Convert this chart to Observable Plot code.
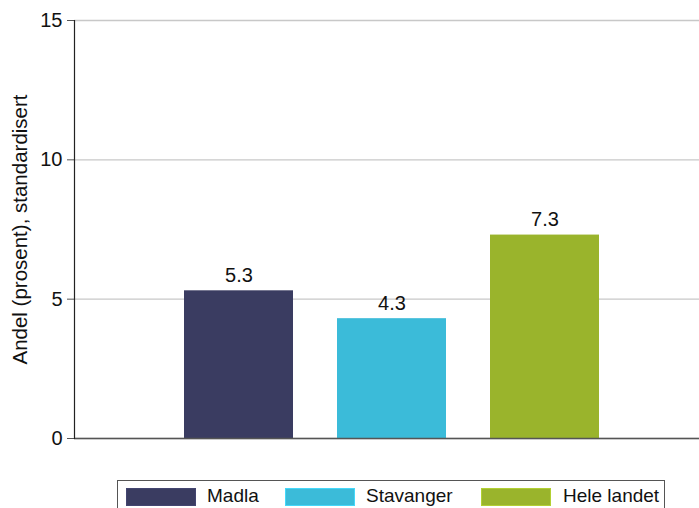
<!DOCTYPE html>
<html>
<head>
<meta charset="utf-8">
<script src="https://cdn.jsdelivr.net/npm/d3@7"></script>
<script src="https://cdn.jsdelivr.net/npm/@observablehq/plot@0.6"></script>
<style>
  body { margin: 0; background: #fff; font-family: "Liberation Sans", Arial, sans-serif; }
  #chart svg { display: block; }
  #legend { position: relative; margin-left: 117px; margin-top: 10px; width: 548px; height: 40px;
            border: 1px solid #555; box-sizing: border-box; }
  .sw { position: absolute; top: 7px; width: 70px; height: 18px; box-sizing: border-box; }
  .lt { position: absolute; top: 4px; font-size: 19px; color: #111; line-height: 22px; }
</style>
</head>
<body>
<div id="chart"></div>
<div id="legend"></div>
<script>
const categories = ["Madla", "Stavanger", "Hele landet"];
const values = [5.3, 4.3, 7.3];
const colors = ["#3a3c61", "#3bbbd9", "#9ab42c"];
const yTicks = [0, 5, 10, 15];
const yLabel = "Andel (prosent), standardisert";

const data = categories.map((c, i) => ({ category: c, value: values[i] }));

const chart = Plot.plot({
  width: 699,
  height: 470,
  marginLeft: 74,
  marginRight: 0,
  marginTop: 20,
  marginBottom: 32,
  style: { fontFamily: "Liberation Sans, Arial, sans-serif", fontSize: "19px", color: "#111", background: "#fff" },
  x: { domain: categories, paddingInner: 0.288, paddingOuter: 0.686, align: 0.524, axis: null },
  y: { domain: [0, 15], ticks: yTicks, label: null, axis: null },
  color: { domain: categories, range: colors },
  marks: [
    Plot.gridY(yTicks, { stroke: "#c8c8c8", strokeOpacity: 1, strokeWidth: 1.3 }),
    Plot.barY(data, { x: "category", y: "value", fill: "category" }),
    Plot.text(data, { x: "category", y: "value", text: d => d.value.toFixed(1), lineAnchor: "bottom", dy: -9, fontSize: 20, fill: "#111" }),
    Plot.ruleY([0], { stroke: "#555", strokeWidth: 1.5 }),
    Plot.axisY({ ticks: yTicks, tickSize: 7, text: null, label: null, stroke: "#555" }),
    Plot.text(yTicks, { y: d => d, text: d => String(d), frameAnchor: "left", textAnchor: "end", dx: -12, fontSize: 20, fill: "#111" }),
    Plot.frame({ anchor: "left", stroke: "#222", strokeWidth: 1.2 }),
    Plot.text([yLabel], { frameAnchor: "left", textAnchor: "middle", dx: -54, rotate: -90, fontSize: 20.5, fill: "#111", text: d => d })
  ]
});
document.getElementById("chart").appendChild(chart);

const legend = document.getElementById("legend");
const swLeft = [8, 167, 363];
const txtLeft = [89, 248, 445];
categories.forEach((c, i) => {
  const s = document.createElement("div");
  s.className = "sw";
  s.style.left = swLeft[i] + "px";
  s.style.background = colors[i];
  s.style.border = "1px solid " + d3.color(colors[i]).brighter(0.4);
  legend.appendChild(s);
  const t = document.createElement("div");
  t.className = "lt";
  t.style.left = txtLeft[i] + "px";
  t.textContent = c;
  legend.appendChild(t);
});
</script>
</body>
</html>
